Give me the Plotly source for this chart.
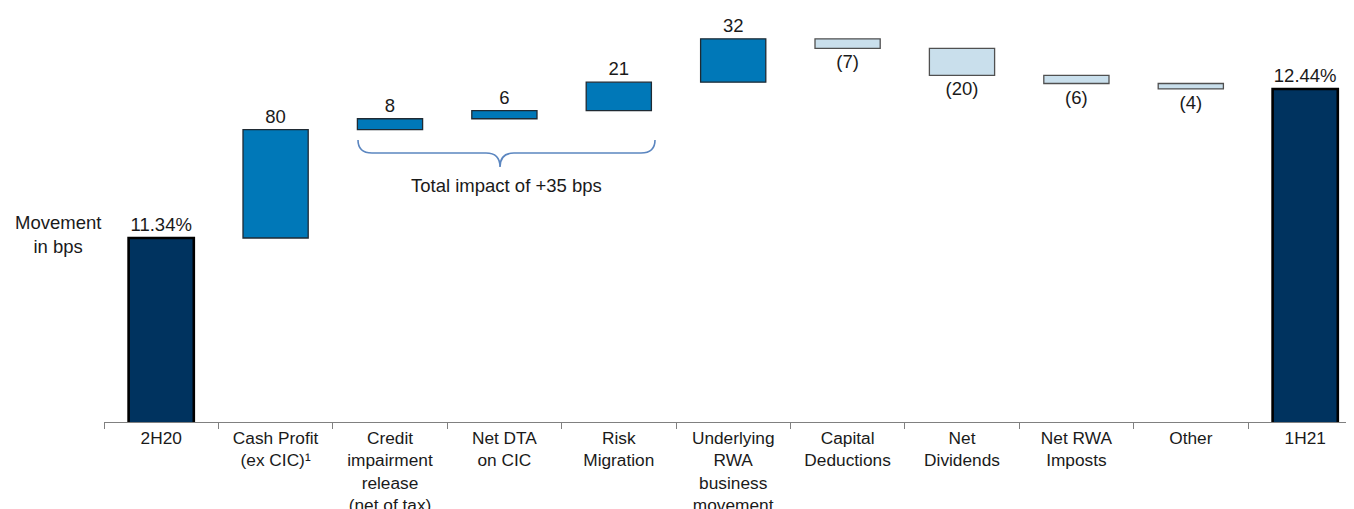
import plotly.graph_objects as go

categories = ["2H20", "Cash Profit<br>(ex CIC)¹", "Credit<br>impairment<br>release<br>(net of tax)",
              "Net DTA<br>on CIC", "Risk<br>Migration", "Underlying<br>RWA<br>business<br>movement",
              "Capital<br>Deductions", "Net<br>Dividends", "Net RWA<br>Imposts", "Other", "1H21"]
start_pct = 11.34
end_pct = 12.44
movements_bps = [80, 8, 6, 21, 32, -7, -20, -6, -4]
labels = ["11.34%", "80", "8", "6", "21", "32", "(7)", "(20)", "(6)", "(4)", "12.44%"]

measures = ["absolute"] + ["relative"] * len(movements_bps) + ["total"]
yvals = [start_pct] + [m / 100 for m in movements_bps] + [end_pct]

NAVY = "#00335F"
MID = "#0078B8"
LIGHT = "#C9DFEC"
FONT = "Liberation Sans, Arial, sans-serif"
FS = 18.5
TFS = 17.3

# page offset of the figure (browser body margin)
OFF = 8
W, H = 1354 - OFF, 509 - OFF
ML, MB = 104 - OFF, 87
PW, PH = W - ML, H - MB  # plot area size


def px_to_paper(px, py):
    # reference page pixels -> paper coordinates
    return (px - OFF - ML) / PW, 1 - (py - OFF) / PH


fig = go.Figure(go.Waterfall(
    x=categories, y=yvals, measure=measures,
    text=labels, textposition="outside",
    textfont=dict(size=FS, color="#1a1a1a", family=FONT),
    width=0.57,
    connector=dict(visible=False),
    increasing=dict(marker=dict(color=MID, line=dict(color="#1f2a33", width=1.3))),
    decreasing=dict(marker=dict(color=LIGHT, line=dict(color="#505050", width=1.3))),
    totals=dict(marker=dict(color=NAVY, line=dict(color="#000000", width=2.6))),
    cliponaxis=False,
    showlegend=False,
))

# brace under the three grouped bars
x0, yt = px_to_paper(358, 140)
x1, _ = px_to_paper(655, 140)
xc, ym = px_to_paper(500, 153)
_, ytip = px_to_paper(500, 167)
dx = 14 / PW
path = (f"M {x0},{yt} Q {x0},{ym} {x0+dx},{ym} L {xc-dx},{ym} Q {xc},{ym} {xc},{ytip} "
        f"Q {xc},{ym} {xc+dx},{ym} L {x1-dx},{ym} Q {x1},{ym} {x1},{yt}")
fig.add_shape(type="path", path=path, xref="paper", yref="paper",
              line=dict(color="#5B86C0", width=1.6))

ax, ay = px_to_paper(506, 185)
fig.add_annotation(text="Total impact of +35 bps", xref="paper", yref="paper",
                   x=ax, y=ay, xanchor="center", yanchor="middle", showarrow=False,
                   font=dict(size=FS, color="#1a1a1a", family=FONT))
mx, my = px_to_paper(58, 234)
fig.add_annotation(text="Movement<br>in bps", xref="paper", yref="paper",
                   x=mx, y=my, xanchor="center", yanchor="middle", showarrow=False,
                   font=dict(size=FS, color="#1a1a1a", family=FONT))

# y scale: 135.5 px per 1%, axis (page y=422) at 9.982
YMIN = 9.982
YMAX = YMIN + PH / 135.5

fig.update_layout(
    width=W, height=H,
    margin=dict(l=ML, r=0, t=0, b=MB, pad=0),
    paper_bgcolor="white", plot_bgcolor="white",
    font=dict(family=FONT, size=FS, color="#1a1a1a"),
    xaxis=dict(type="category", range=[-0.5, -0.5 + PW / 114.4], showline=True,
               linecolor="#808080", linewidth=1.3, automargin=False,
               ticks="outside", tickson="boundaries", ticklen=6, tickcolor="#808080", tickwidth=1.3,
               showgrid=False, tickfont=dict(size=TFS, family=FONT, color="#1a1a1a")),
    yaxis=dict(range=[YMIN, YMAX], visible=False, showgrid=False, zeroline=False, automargin=False),
)

fig.write_html("out.html")
